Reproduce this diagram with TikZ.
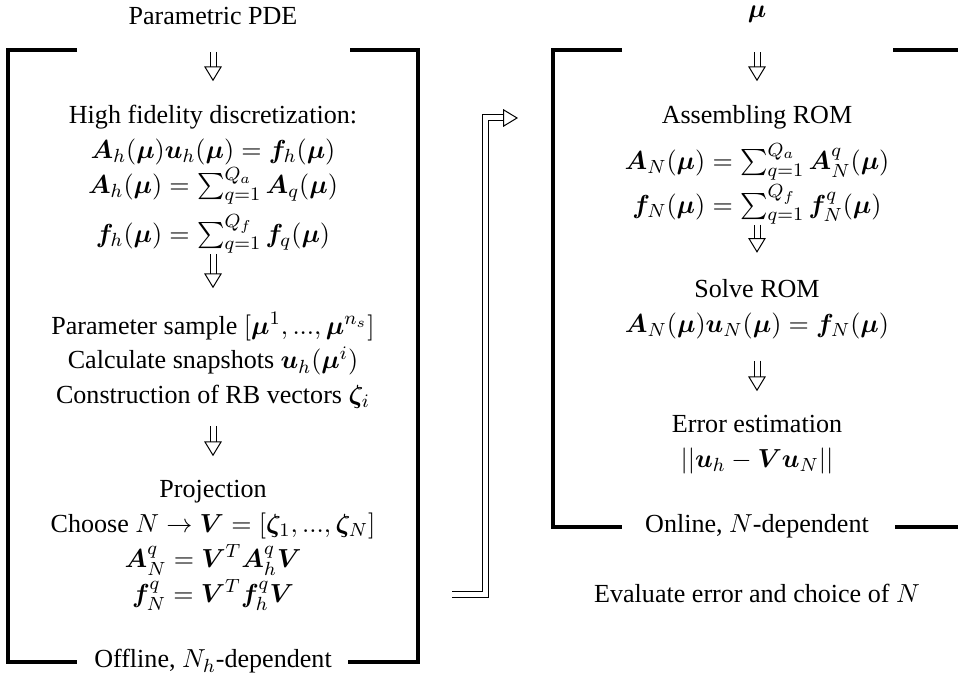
\documentclass[tikz,border=0pt,11pt]{standalone}
\usepackage[no-math]{fontspec}
\setmainfont{Liberation Serif}
\usepackage{amsmath,bm}
\usetikzlibrary{arrows.meta,positioning}

\begin{document}
\begin{tikzpicture}[x=0.42pt,y=-0.42pt,
txt/.style={inner sep=0pt,anchor=base},
blk/.style={align=center,inner sep=0pt,anchor=north,font=\fontsize{10.95}{14.6}\selectfont},
bracket/.style={line width=1.3pt},
dn/.style={double,double distance=2.1pt,line width=0.42pt,shorten <=11pt,shorten >=10pt,
  -{Triangle[open,length=6.2pt,width=7.4pt,line width=0.42pt]}}]
\useasboundingbox (0,0) rectangle (958,678);

% offline part
\node (pde) [txt] at (213,25) {Parametric PDE};
\node (hifi) [blk] at (213,105) {High fidelity discretization:\\
  $\bm{A}_h(\bm{\mu})\bm{u}_h(\bm{\mu})=\bm{f}_h(\bm{\mu})$\\
  $\bm{A}_h(\bm{\mu})=\sum_{q=1}^{Q_a}\bm{A}_q(\bm{\mu})$\\[3pt]
  $\bm{f}_h(\bm{\mu})=\sum_{q=1}^{Q_f}\bm{f}_q(\bm{\mu})$};
\node (snap) [blk] at (213,312) {Parameter sample $[\bm{\mu}^1,...,\bm{\mu}^{n_s}]$\\
  Calculate snapshots $\bm{u}_h(\bm{\mu}^i)$\\
  Construction of RB vectors $\bm{\zeta}_i$};
\node (proj) [blk] at (213,480) {Projection\\
  Choose $N\rightarrow\bm{V}=[\bm{\zeta}_1,...,\bm{\zeta}_N]$\\
  $\bm{A}_N^q=\bm{V}^T\bm{A}_h^q\bm{V}$\\
  $\bm{f}_N^q=\bm{V}^T\bm{f}_h^q\bm{V}$};
\node (offl) [txt] at (213,668) {Offline, $N_h$-dependent};

\draw[bracket] (77,50) -| (8,662) -- (77,662);
\draw[bracket] (350,50) -| (418,662) -- (348,662);

\draw[dn] (pde) -- (hifi);
\draw[dn,shorten <=0pt] (hifi) -- (snap);
\draw[dn,shorten <=7pt] (snap) -- (proj);

% online part
\node (mu) [txt] at (757,18) {$\bm{\mu}$};
\node (asm) [blk] at (757,105) {Assembling ROM\\[4.5pt]
  $\bm{A}_N(\bm{\mu})=\sum_{q=1}^{Q_a}\bm{A}_N^q(\bm{\mu})$\\[1pt]
  $\bm{f}_N(\bm{\mu})=\sum_{q=1}^{Q_f}\bm{f}_N^q(\bm{\mu})$};
\node (solve) [blk] at (757,279) {Solve ROM\\
  $\bm{A}_N(\bm{\mu})\bm{u}_N(\bm{\mu})=\bm{f}_N(\bm{\mu})$};
\node (err) [blk] at (757,415) {Error estimation\\
  $||\bm{u}_h-\bm{V}\bm{u}_N||$};
\node (onl) [txt] at (757,533) {Online, $N$-dependent};
\node (eval) [txt] at (757,603) {Evaluate error and choice of $N$};

\draw[bracket] (622,50) -| (553,527) -- (622,527);
\draw[bracket] (893,50) -| (961,527) -- (895,527);

\draw[dn,shorten <=12pt] (mu) -- (asm);
\draw[dn,shorten <=0pt,shorten >=11pt] (asm) -- (solve);
\draw[dn,shorten <=9pt] (solve) -- (err);

% from offline to online
\coordinate (out) at (452,595);
\coordinate (in) at (518,118);
\draw[dn,shorten <=0pt,shorten >=0pt] (out) -- ++(33,0) |- (in);
\end{tikzpicture}
\end{document}
